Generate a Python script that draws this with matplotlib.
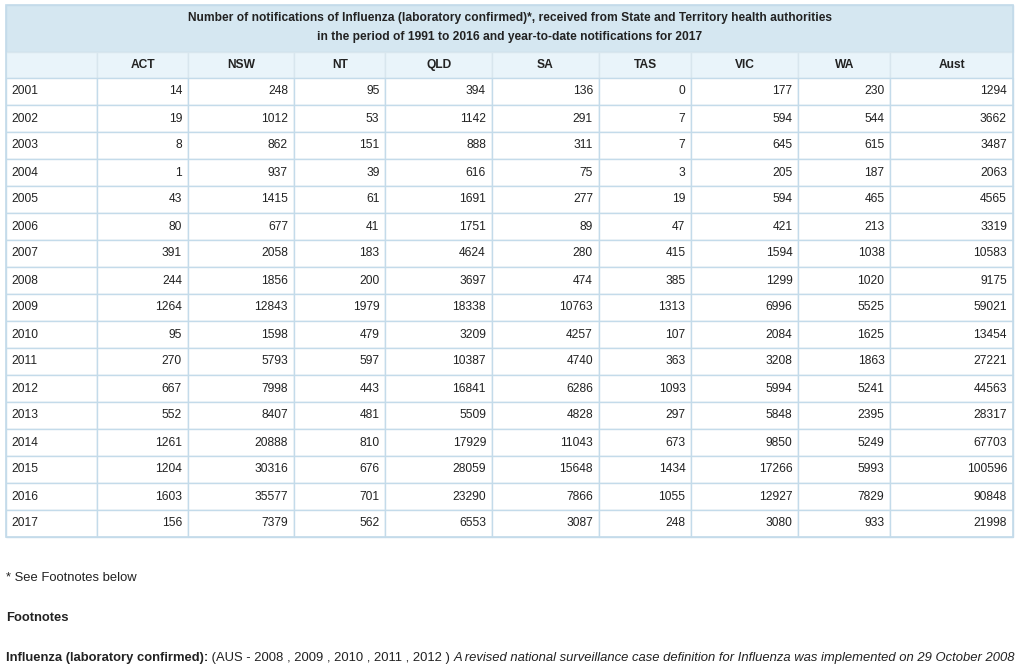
import matplotlib.pyplot as plt
from matplotlib.patches import Rectangle

plt.rcParams['font.family'] = ['Liberation Sans', 'DejaVu Sans']

title_lines = ['Number of notifications of Influenza (laboratory confirmed)*, received from State and Territory health authorities',
               'in the period of 1991 to 2016 and year-to-date notifications for 2017']
columns = ['ACT', 'NSW', 'NT', 'QLD', 'SA', 'TAS', 'VIC', 'WA', 'Aust']
years = ['2001', '2002', '2003', '2004', '2005', '2006', '2007', '2008', '2009',
         '2010', '2011', '2012', '2013', '2014', '2015', '2016', '2017']
act = [14, 19, 8, 1, 43, 80, 391, 244, 1264, 95, 270, 667, 552, 1261, 1204, 1603, 156]
nsw = [248, 1012, 862, 937, 1415, 677, 2058, 1856, 12843, 1598, 5793, 7998, 8407, 20888, 30316, 35577, 7379]
nt = [95, 53, 151, 39, 61, 41, 183, 200, 1979, 479, 597, 443, 481, 810, 676, 701, 562]
qld = [394, 1142, 888, 616, 1691, 1751, 4624, 3697, 18338, 3209, 10387, 16841, 5509, 17929, 28059, 23290, 6553]
sa = [136, 291, 311, 75, 277, 89, 280, 474, 10763, 4257, 4740, 6286, 4828, 11043, 15648, 7866, 3087]
tas = [0, 7, 7, 3, 19, 47, 415, 385, 1313, 107, 363, 1093, 297, 673, 1434, 1055, 248]
vic = [177, 594, 645, 205, 594, 421, 1594, 1299, 6996, 2084, 3208, 5994, 5848, 9850, 17266, 12927, 3080]
wa = [230, 544, 615, 187, 465, 213, 1038, 1020, 5525, 1625, 1863, 5241, 2395, 5249, 5993, 7829, 933]
aust = [1294, 3662, 3487, 2063, 4565, 3319, 10583, 9175, 59021, 13454, 27221, 44563, 28317, 67703, 100596, 90848, 21998]
series = [act, nsw, nt, qld, sa, tas, vic, wa, aust]

# column edges in pixels
edges = [6.5, 97.5, 188, 294, 385.5, 492, 599, 691.5, 798.5, 890.5, 1013]
top = 5
title_h = 46.5
head_h = 26.5
row_h = 27

border = '#c4dbea'
txt = '#222222'
fs = 8.65
ffs = 9.4

fig = plt.figure(figsize=(10.18, 6.68), dpi=100)
ax = fig.add_axes([0, 0, 1, 1])
ax.set_xlim(0, 1018)
ax.set_ylim(668, 0)
ax.axis('off')

left, right = edges[0], edges[-1]

# title row
ax.add_patch(Rectangle((left, top), right - left, title_h, facecolor='#d5e7f1', edgecolor=border, lw=1))
ax.text((left + right) / 2, top + 13.5, title_lines[0], ha='center', va='center', fontsize=fs,
        fontweight='bold', color=txt)
ax.text((left + right) / 2, top + 32, title_lines[1], ha='center', va='center', fontsize=fs,
        fontweight='bold', color=txt)

# header row
hy = top + title_h
for i in range(len(edges) - 1):
    ax.add_patch(Rectangle((edges[i], hy), edges[i + 1] - edges[i], head_h,
                           facecolor='#e9f4fa', edgecolor='#d8e6ee', lw=1))
for i, c in enumerate(columns):
    ax.text((edges[i + 1] + edges[i + 2]) / 2, hy + head_h / 2, c, ha='center', va='center',
            fontsize=fs, fontweight='bold', color=txt)

# data rows
y0 = hy + head_h
for r, yr in enumerate(years):
    y = y0 + r * row_h
    for i in range(len(edges) - 1):
        ax.add_patch(Rectangle((edges[i], y), edges[i + 1] - edges[i], row_h,
                               facecolor='white', edgecolor=border, lw=1))
    ax.text(edges[0] + 5, y + row_h / 2, yr, ha='left', va='center', fontsize=fs, color=txt)
    for i, s in enumerate(series):
        ax.text(edges[i + 2] - 6, y + row_h / 2, str(s[r]), ha='right', va='center',
                fontsize=fs, color=txt)

# outer border
ax.add_patch(Rectangle((left, top), right - left, y0 + len(years) * row_h - top,
                       facecolor='none', edgecolor=border, lw=1.2))

# footnotes
ax.text(6, 578, '* See Footnotes below', ha='left', va='center', fontsize=ffs, color=txt)
ax.text(6, 618, 'Footnotes', ha='left', va='center', fontsize=ffs, fontweight='bold', color=txt)
t1 = ax.text(6, 658, 'Influenza (laboratory confirmed):', ha='left', va='center', fontsize=ffs,
             fontweight='bold', color=txt)
t2 = ax.annotate(' (AUS - 2008 , 2009 , 2010 , 2011 , 2012 ) ', xy=(1, 0.5), xycoords=t1,
                 ha='left', va='center', fontsize=ffs, color=txt)
t3 = ax.annotate('A revised national surveillance case definition for Influenza was implemented on 29 October 2008',
                 xy=(1, 0.5), xycoords=t2, ha='left', va='center', fontsize=ffs, color=txt, style='italic')

fig.savefig('out.png', dpi=100, facecolor='white')
